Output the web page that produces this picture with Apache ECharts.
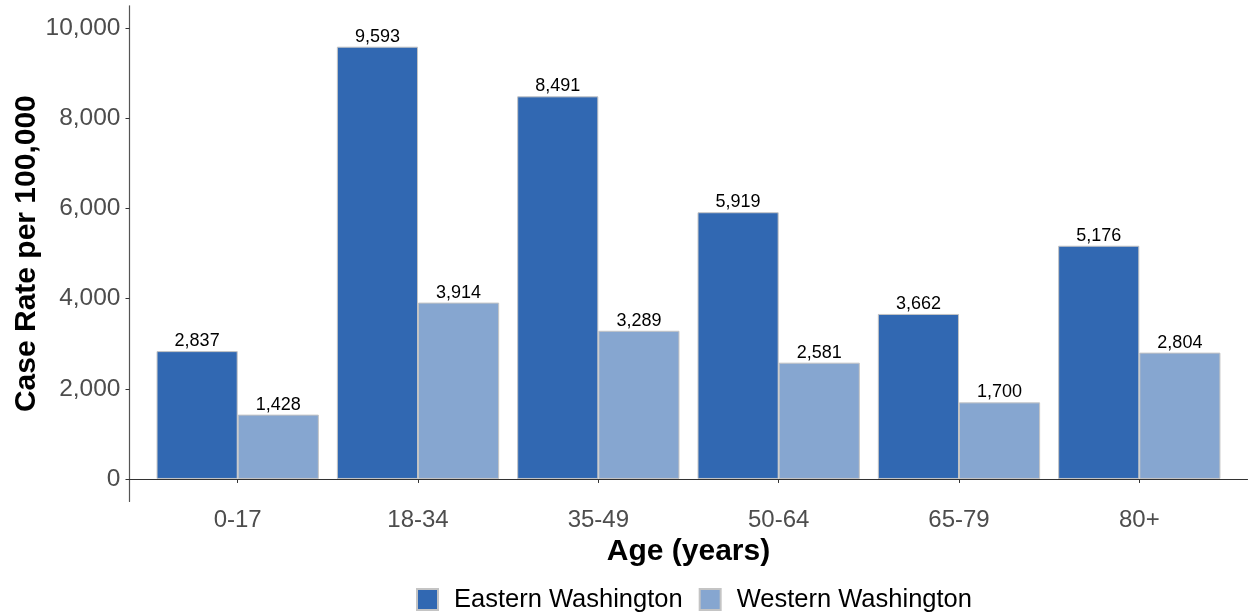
<!DOCTYPE html>
<html>
<head>
<meta charset="utf-8">
<script src="https://cdn.jsdelivr.net/npm/echarts@6/dist/echarts.min.js"></script>
<style>html,body{margin:0;padding:0;background:#fff}#c{width:1249px;height:614px}</style>
</head>
<body>
<div id="c"></div>
<script>
const categories = ['0-17', '18-34', '35-49', '50-64', '65-79', '80+'];
const eastern = [2837, 9593, 8491, 5919, 3662, 5176];
const western = [1428, 3914, 3289, 2581, 1700, 2804];
const yTicks = [0, 2000, 4000, 6000, 8000, 10000];
const seriesNames = ['Eastern Washington', 'Western Washington'];

const positions = categories.map((c, i) => i + 1);
const font = 'Liberation Sans, Arial, sans-serif';
const fmt = v => Number(v).toLocaleString('en-US');

const chart = echarts.init(document.getElementById('c'), null, {renderer: 'canvas'});
function mk(name, vals, color) {
  return {
    name: name,
    type: 'bar',
    data: vals.map((v, i) => [positions[i], v]),
    barGap: '0%',
    barCategoryGap: '10%',
    itemStyle: {color: color, borderColor: '#c4c4c4', borderWidth: 1},
    label: {
      show: true, position: 'top', distance: 1,
      fontFamily: font, fontSize: 18, color: '#000',
      formatter: p => fmt(p.value[1])
    }
  };
}
chart.setOption({
  animation: false,
  backgroundColor: '#fff',
  textStyle: {fontFamily: font},
  grid: {left: 129.5, right: 1.5, top: 5.8, bottom: 112.5, containLabel: false, outerBoundsMode: 'none'},
  legend: {
    data: seriesNames,
    left: 416, top: 586.5, padding: 0, icon: 'rect',
    itemWidth: 21, itemHeight: 21, itemGap: 16,
    textStyle: {fontFamily: font, fontSize: 25.5, color: '#000', padding: [0, 0, 0, 11]}
  },
  xAxis: {
    type: 'value', min: 0.4, max: 6.6,
    name: 'Age (years)', nameLocation: 'middle', nameGap: 35, nameMoveOverlap: false,
    nameTextStyle: {fontFamily: font, fontSize: 30, fontWeight: 'bold', color: '#000'},
    splitLine: {show: false},
    axisLine: {show: true, lineStyle: {color: '#333', width: 1.2}},
    axisTick: {show: true, length: 4, customValues: positions, lineStyle: {color: '#333'}},
    axisLabel: {
      customValues: positions, margin: 7,
      fontFamily: font, fontSize: 24, color: '#4d4d4d',
      formatter: v => categories[Math.round(v) - 1]
    }
  },
  yAxis: {
    type: 'value', min: -500, max: 10500,
    name: 'Case Rate per 100,000', nameLocation: 'middle', nameGap: 88, nameMoveOverlap: false,
    nameTextStyle: {fontFamily: font, fontSize: 30, fontWeight: 'bold', color: '#000'},
    splitLine: {show: false},
    axisLine: {show: true, lineStyle: {color: '#555', width: 1.2}},
    axisTick: {show: true, length: 4, customValues: yTicks, lineStyle: {color: '#333'}},
    axisLabel: {
      customValues: yTicks, margin: 9,
      fontFamily: font, fontSize: 24.5, color: '#4d4d4d',
      formatter: v => fmt(v)
    }
  },
  series: [mk(seriesNames[0], eastern, '#3168b2'), mk(seriesNames[1], western, '#86a6d0')]
});
</script>
</body>
</html>
